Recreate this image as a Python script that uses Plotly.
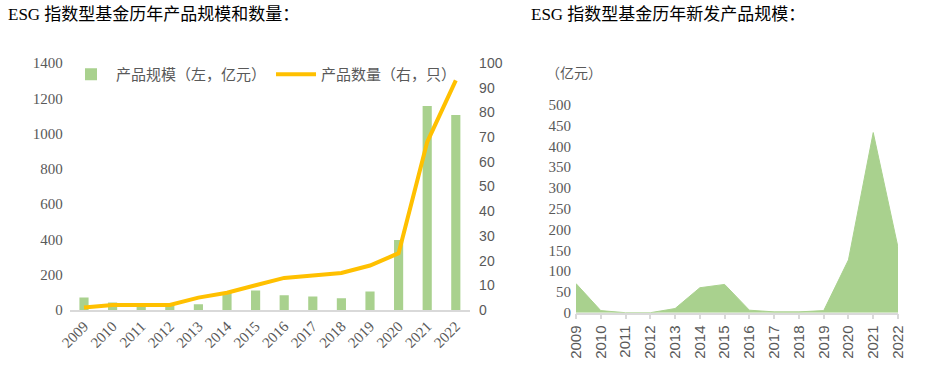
import plotly.graph_objects as go

years = ["2009", "2010", "2011", "2012", "2013", "2014", "2015", "2016",
         "2017", "2018", "2019", "2020", "2021", "2022"]
scale_values = [71, 43, 40, 40, 32, 100, 111, 83, 77, 66, 105, 397, 1156, 1105]
count_values = [1, 2, 2, 2, 5, 7, 10, 13, 14, 15, 18, 23, 68, 93]
new_scale_values = [70, 5, 0, 0, 10, 60, 68, 6, 2, 2, 5, 127, 433, 157]

left_ticks = [0, 200, 400, 600, 800, 1000, 1200, 1400]
right_ticks = [0, 10, 20, 30, 40, 50, 60, 70, 80, 90, 100]
area_ticks = [0, 50, 100, 150, 200, 250, 300, 350, 400, 450, 500]

GREEN = "#A9D18E"
ORANGE = "#FFC000"
TXT = "#595959"
SERIF = "Liberation Serif, Noto Sans CJK SC"
SANS = "Liberation Sans, Arial"
W, H = 933, 375

fig = go.Figure()

fig.add_trace(go.Bar(
    x=years, y=scale_values, name="产品规模（左，亿元）",
    marker=dict(color=GREEN, line=dict(width=0)),
    xaxis="x", yaxis="y",
))
fig.add_trace(go.Scatter(
    x=years, y=count_values, name="产品数量（右，只）",
    mode="lines", line=dict(color=ORANGE, width=4),
    xaxis="x", yaxis="y2",
))
fig.add_trace(go.Scatter(
    x=years, y=new_scale_values, mode="lines", fill="tozeroy",
    line=dict(color=GREEN, width=1), fillcolor=GREEN,
    showlegend=False, xaxis="x3", yaxis="y3",
))

def px_x(p):
    return p / W

def px_y(p):
    return (H - p) / H

fig.update_layout(
    width=W, height=H,
    margin=dict(l=0, r=0, t=0, b=0, autoexpand=False),
    paper_bgcolor="white", plot_bgcolor="white",
    bargap=0.68,
    showlegend=True,
    legend=dict(
        orientation="h", x=px_x(66), y=px_y(58), xanchor="left", yanchor="top",
        font=dict(family="Noto Sans CJK SC", size=15, color=TXT),
        bgcolor="rgba(0,0,0,0)", itemwidth=40, tracegroupgap=0,
    ),
    xaxis=dict(
        domain=[px_x(69.7), px_x(470.1)], type="category", range=[-0.5, 13.5],
        showline=True, linecolor="#D9D9D9", linewidth=1.5, ticks="",
        tickangle=-45, tickfont=dict(family=SERIF, size=15, color=TXT),
        showgrid=False, zeroline=False, anchor="y", automargin=False,
    ),
    yaxis=dict(
        domain=[px_y(310), px_y(63)], range=[0, 1400], tickvals=left_ticks,
        showgrid=False, zeroline=False, showline=False,
        tickfont=dict(family=SERIF, size=15, color=TXT),
        ticklabelstandoff=6, anchor="x", automargin=False,
    ),
    yaxis2=dict(
        domain=[px_y(310), px_y(63)], range=[0, 100], tickvals=right_ticks,
        overlaying="y", side="right", anchor="x",
        showgrid=False, zeroline=False, showline=False,
        tickfont=dict(family=SANS, size=14, color=TXT),
        ticklabelstandoff=8, automargin=False,
    ),
    xaxis3=dict(
        domain=[px_x(576), px_x(898)], type="category", range=[0, 13],
        showline=True, linecolor="#D9D9D9", linewidth=1.5,
        ticks="outside", ticklen=5, tickcolor="#D9D9D9", tickwidth=1.5,
        tickangle=-90, tickfont=dict(family=SANS, size=15, color=TXT),
        showgrid=False, zeroline=False, anchor="y3", automargin=False,
    ),
    yaxis3=dict(
        domain=[px_y(312.7), px_y(104.7)], range=[0, 500], tickvals=area_ticks,
        showgrid=False, zeroline=False, showline=False,
        tickfont=dict(family=SERIF, size=15, color=TXT),
        ticklabelstandoff=4, anchor="x3", automargin=False,
    ),
    annotations=[
        dict(text="ESG 指数型基金历年产品规模和数量：", x=px_x(6), y=px_y(3),
             xref="paper", yref="paper", xanchor="left", yanchor="top",
             showarrow=False, font=dict(family=SERIF, size=17, color="black")),
        dict(text="ESG 指数型基金历年新发产品规模：", x=px_x(529), y=px_y(3),
             xref="paper", yref="paper", xanchor="left", yanchor="top",
             showarrow=False, font=dict(family=SERIF, size=17, color="black")),
        dict(text="（亿元）", x=px_x(544), y=px_y(72), xref="paper", yref="paper",
             xanchor="left", yanchor="middle", showarrow=False,
             font=dict(family="Noto Sans CJK SC", size=14, color=TXT)),
    ],
)

fig.write_html("out.html", config={"displayModeBar": False},
               post_script="document.body.style.margin='0';")
